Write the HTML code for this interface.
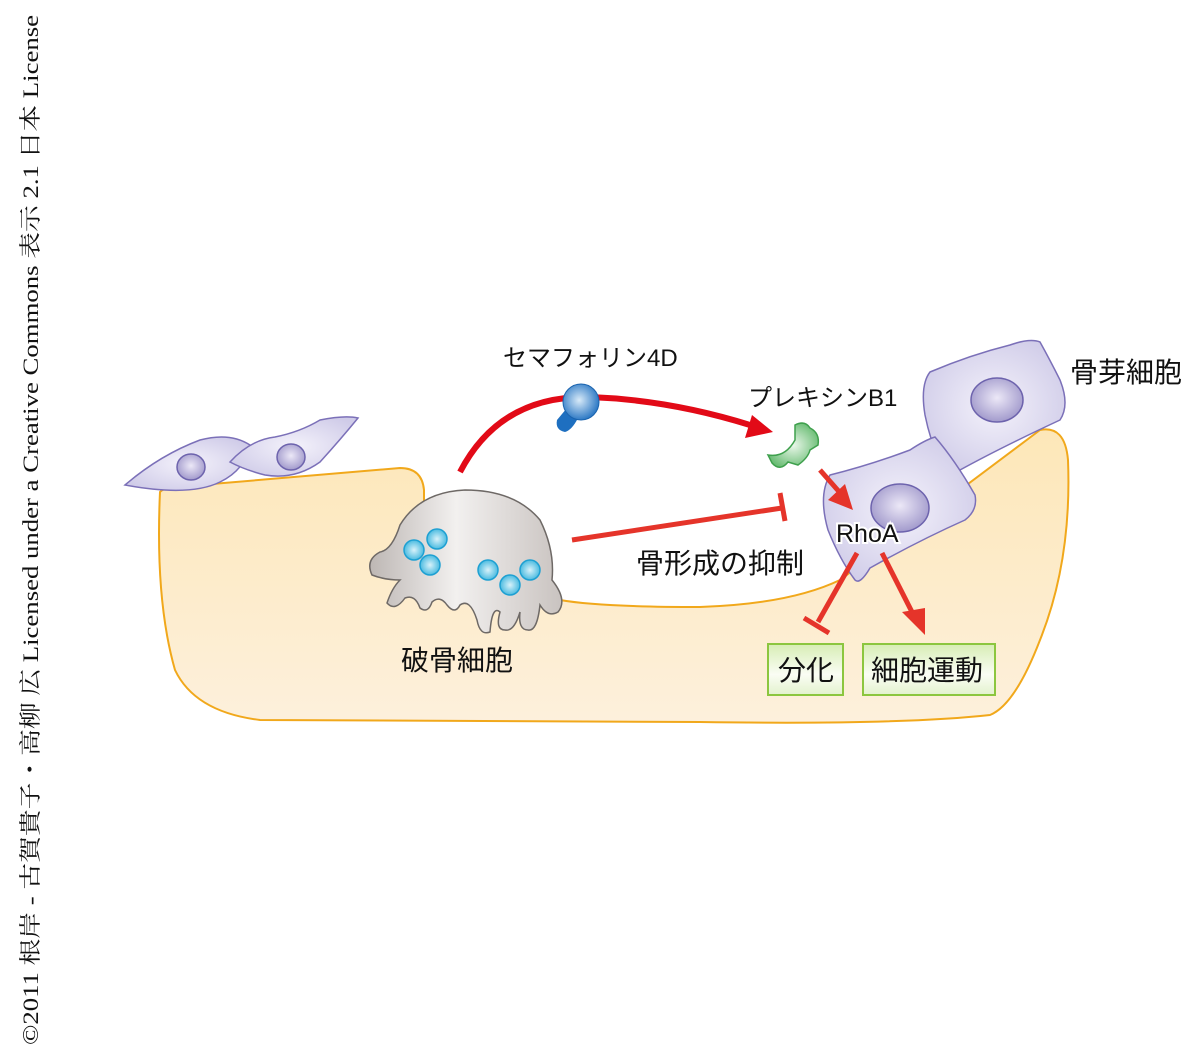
<!DOCTYPE html>
<html><head><meta charset="utf-8"><style>
body{margin:0;background:#fff;width:1200px;height:1058px;overflow:hidden}
svg{display:block}
text{font-family:"Liberation Sans","Noto Sans CJK JP",sans-serif}
</style></head><body>
<svg width="1200" height="1058" viewBox="0 0 1200 1058">
<defs>
<linearGradient id="bone" x1="0" y1="0" x2="0" y2="1"><stop offset="0" stop-color="#fde7b8"/><stop offset="1" stop-color="#fdf0dc"/></linearGradient>
<radialGradient id="cell" cx="0.5" cy="0.5" r="0.6"><stop offset="0" stop-color="#f4f2fb"/><stop offset="1" stop-color="#cfcbe8"/></radialGradient>
<radialGradient id="nuc" cx="0.5" cy="0.45" r="0.6"><stop offset="0" stop-color="#ece8f7"/><stop offset="1" stop-color="#9b93c8"/></radialGradient>
<linearGradient id="oc" x1="0" y1="0" x2="1" y2="0"><stop offset="0" stop-color="#bdb7b4"/><stop offset="0.45" stop-color="#f2f0ef"/><stop offset="1" stop-color="#c9c3c0"/></linearGradient>
<radialGradient id="ves" cx="0.5" cy="0.5" r="0.6"><stop offset="0" stop-color="#d8f2fa"/><stop offset="1" stop-color="#2fb0db"/></radialGradient>
<radialGradient id="sem" cx="0.45" cy="0.45" r="0.6"><stop offset="0" stop-color="#d8eaf8"/><stop offset="1" stop-color="#1e6fc0"/></radialGradient>
<radialGradient id="plx" cx="0.5" cy="0.5" r="0.6"><stop offset="0" stop-color="#eaf7ea"/><stop offset="1" stop-color="#5fb86a"/></radialGradient>
<linearGradient id="box" x1="0" y1="0" x2="0" y2="1"><stop offset="0" stop-color="#d7edb5"/><stop offset="0.6" stop-color="#fafdf4"/><stop offset="1" stop-color="#e3f2cd"/></linearGradient>
</defs>
<text transform="translate(38,1045) rotate(-90)" font-size="22" textLength="1030" lengthAdjust="spacingAndGlyphs" style="font-family:'Liberation Serif','Noto Serif CJK SC',serif" fill="#111">©2011 根岸 - 古賀貴子・高柳 広 Licensed under a Creative Commons 表示 2.1 日本 License</text>
<!-- bone -->
<path d="M160,492 Q165,486 200,485 L400,468 Q422,468 424,490 L424,500 L560,600 Q600,607 700,607 Q790,604 840,580 L1040,430 Q1065,425 1068,460 Q1072,560 1040,640 Q1015,705 990,715 Q900,725 700,722 L260,720 Q195,712 175,670 Q155,600 160,492 Z" fill="url(#bone)" stroke="#f1a81b" stroke-width="2"/>
<!-- left cells -->
<path d="M125,485 Q160,455 200,440 Q230,432 250,445 Q245,470 220,482 Q190,497 125,485 Z" fill="url(#cell)" stroke="#7b70b8" stroke-width="1.5"/>
<ellipse cx="191" cy="467" rx="14" ry="13" fill="url(#nuc)" stroke="#6d63ad" stroke-width="1.5"/>
<path d="M230,462 Q250,440 275,437 Q300,432 320,420 Q345,415 358,418 Q340,440 320,462 Q295,480 265,475 Q245,470 230,462 Z" fill="url(#cell)" stroke="#7b70b8" stroke-width="1.5"/>
<ellipse cx="291" cy="457" rx="14" ry="13" fill="url(#nuc)" stroke="#6d63ad" stroke-width="1.5"/>
<!-- osteoblasts -->
<path d="M930,372 Q970,355 1010,345 Q1030,338 1040,342 Q1050,360 1060,380 Q1070,405 1060,420 Q1000,448 960,470 Q945,475 940,462 Q930,440 925,415 Q920,385 930,372 Z" fill="url(#cell)" stroke="#7b70b8" stroke-width="1.5"/>
<ellipse cx="997" cy="400" rx="26" ry="22" fill="url(#nuc)" stroke="#6d63ad" stroke-width="1.5"/>
<path d="M830,475 Q870,465 910,450 Q925,440 935,437 Q955,460 975,495 Q978,510 965,520 Q920,540 870,568 Q860,585 855,580 Q840,560 828,530 Q818,495 830,475 Z" fill="url(#cell)" stroke="#7b70b8" stroke-width="1.5"/>
<ellipse cx="900" cy="508" rx="29" ry="24" fill="url(#nuc)" stroke="#6d63ad" stroke-width="1.5"/>
<!-- osteoclast -->
<path d="M400,525 Q420,492 465,490 Q515,490 540,520 Q555,550 552,580 Q568,600 558,612 Q548,618 540,605 Q537,632 528,630 Q518,630 520,612 Q514,632 505,630 Q495,630 500,612 Q492,605 490,632 Q480,636 477,620 Q470,598 460,605 Q455,615 447,605 Q440,595 432,602 Q428,614 420,608 Q415,594 405,598 Q395,612 387,603 Q392,588 400,580 Q385,580 372,575 Q365,560 380,552 Q392,550 400,525 Z" fill="url(#oc)" stroke="#6e6966" stroke-width="1.5"/>
<g fill="url(#ves)" stroke="#1ea0d2" stroke-width="1.5">
<circle cx="414" cy="550" r="10"/><circle cx="437" cy="539" r="10"/><circle cx="430" cy="565" r="10"/>
<circle cx="488" cy="570" r="10"/><circle cx="510" cy="585" r="10"/><circle cx="530" cy="570" r="10"/>
</g>
<!-- arrows -->
<path d="M460,472 Q500,395 590,397 Q670,400 750,425" fill="none" stroke="#e20a17" stroke-width="6"/>
<polygon points="773,432 745,438 752,415" fill="#e20a17"/>
<line x1="572" y1="540" x2="782" y2="508" stroke="#e5342a" stroke-width="5"/>
<line x1="780" y1="493" x2="785" y2="521" stroke="#e5342a" stroke-width="5"/>
<line x1="820" y1="470" x2="842" y2="495" stroke="#e5342a" stroke-width="5"/>
<polygon points="853,510 828,500 845,484" fill="#e5342a"/>
<line x1="857" y1="553" x2="818" y2="622" stroke="#e5342a" stroke-width="5"/>
<line x1="804" y1="618" x2="829" y2="633" stroke="#e5342a" stroke-width="5"/>
<line x1="882" y1="553" x2="912" y2="612" stroke="#e5342a" stroke-width="5"/>
<polygon points="925,635 902,612 925,608" fill="#e5342a"/>
<!-- semaphorin -->
<path d="M572,402 L557,420 Q555,430 565,432 Q572,430 578,418 Z" fill="#1e6fc0"/>
<circle cx="581" cy="402" r="18" fill="url(#sem)" stroke="#1a63ae" stroke-width="1"/>
<!-- plexin -->
<path d="M795,425 Q805,420 810,428 Q820,433 818,445 L810,450 Q808,458 798,465 L788,462 Q780,472 772,463 L768,455 Q785,458 795,440 Z" fill="url(#plx)" stroke="#3fa04d" stroke-width="1.5"/>
<!-- boxes -->
<rect x="768" y="644" width="75" height="51" fill="url(#box)" stroke="#8cc63f" stroke-width="2"/>
<rect x="863" y="644" width="132" height="51" fill="url(#box)" stroke="#8cc63f" stroke-width="2"/>
<g font-size="28" fill="#111">
<text x="503" y="366" font-size="24">セマフォリン4D</text>
<text x="748" y="406" font-size="24">プレキシンB1</text>
<text x="1070" y="382">骨芽細胞</text>
<text x="636" y="573">骨形成の抑制</text>
<text x="401" y="670">破骨細胞</text>
<text x="836" y="542" font-size="25" stroke="#fff" stroke-width="4" paint-order="stroke">RhoA</text>
<text x="778" y="680">分化</text>
<text x="871" y="680">細胞運動</text>
</g>
</svg>
</body></html>
